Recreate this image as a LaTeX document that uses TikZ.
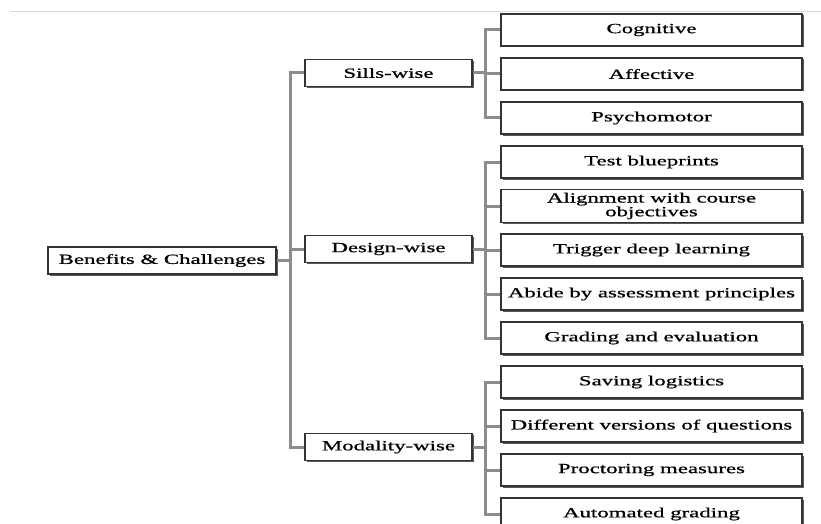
\documentclass[tikz,border=0pt]{standalone}
\usepackage{fontspec}
\setmainfont{Liberation Serif}[FakeStretch=1.63, FakeBold=0.8]
\usepackage{tikz}
\usetikzlibrary{shadows}

\tikzset{
  box/.style={draw=black!80, line width=1.8pt, fill=white, inner xsep=1pt,
    drop shadow={shadow xshift=1.5pt, shadow yshift=-1.5pt, fill=black!65, opacity=1},
    font=\fontsize{14}{12}\selectfont, align=center},
  midbox/.style={box, minimum width=167pt, minimum height=27pt},
  leafbox/.style={box, minimum width=301pt, minimum height=32pt},
  link/.style={draw=black!45, line width=3pt}
}

\begin{document}
\begin{tikzpicture}[x=1pt, y=-1pt]
\useasboundingbox (0,0) rectangle (821,524);

\draw [black!15, line width=1pt] (10,12) -- (821,12);

\node [box, minimum width=228pt, minimum height=27pt] (root) at (162,260.5) {Benefits \& Challenges};

\node [midbox] (sills) at (388.5,73) {Sills-wise};
\node [midbox] (design) at (388.5,249) {Design-wise};
\node [midbox] (modality) at (388.5,447) {Modality-wise};

\node [leafbox] (cognitive) at (651.5,30) {Cognitive};
\node [leafbox] (affective) at (651.5,74) {Affective};
\node [leafbox] (psycho) at (651.5,118) {Psychomotor};

\node [leafbox] (blueprint) at (651.5,162) {Test blueprints};
\node [leafbox] (align) at (651.5,206) {Alignment with course\\objectives};
\node [leafbox] (deep) at (651.5,250) {Trigger deep learning};
\node [leafbox] (abide) at (651.5,294) {Abide by assessment principles};
\node [leafbox] (grading) at (651.5,338) {Grading and evaluation};

\node [leafbox] (saving) at (651.5,382) {Saving logistics};
\node [leafbox] (versions) at (651.5,426) {Different versions of questions};
\node [leafbox] (proctor) at (651.5,470) {Proctoring measures};
\node [leafbox] (auto) at (651.5,514) {Automated grading};

% first level
\draw [link] (root.east) -- ++(14,0) |- (sills.west);
\draw [link] (root.east) -- ++(14,0) |- (design.west);
\draw [link] (root.east) -- ++(14,0) |- (modality.west);

% second level
\draw [link] (sills.east) -- ++(13,0) |- (cognitive.west);
\draw [link] (sills.east) -- ++(13,0) |- (affective.west);
\draw [link] (sills.east) -- ++(13,0) |- (psycho.west);

\draw [link] (design.east) -- ++(13,0) |- (blueprint.west);
\draw [link] (design.east) -- ++(13,0) |- (align.west);
\draw [link] (design.east) -- ++(13,0) |- (deep.west);
\draw [link] (design.east) -- ++(13,0) |- (abide.west);
\draw [link] (design.east) -- ++(13,0) |- (grading.west);

\draw [link] (modality.east) -- ++(13,0) |- (saving.west);
\draw [link] (modality.east) -- ++(13,0) |- (versions.west);
\draw [link] (modality.east) -- ++(13,0) |- (proctor.west);
\draw [link] (modality.east) -- ++(13,0) |- (auto.west);
\end{tikzpicture}
\end{document}
